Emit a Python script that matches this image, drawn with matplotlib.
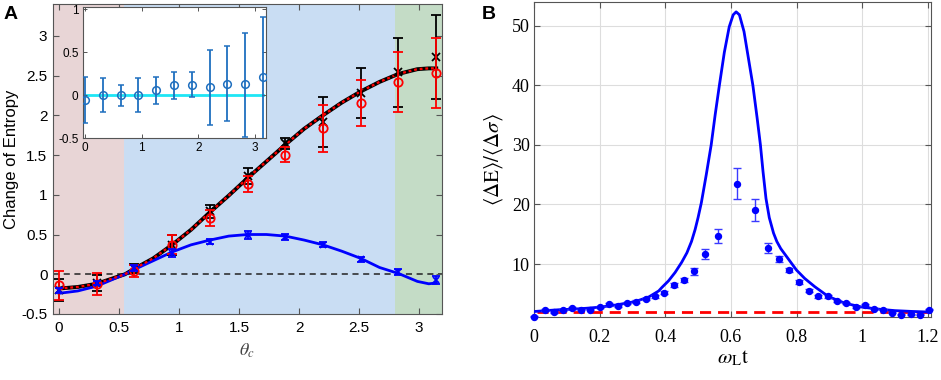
import numpy as np
import matplotlib
matplotlib.use("Agg")
import matplotlib.pyplot as plt

# ---------------- Panel A data ----------------
theta = [0, 0.314, 0.628, 0.942, 1.257, 1.571, 1.885, 2.199, 2.513, 2.827, 3.142]
black_y = [-0.20, -0.11, 0.075, 0.37, 0.79, 1.235, 1.65, 1.915, 2.28, 2.54, 2.735]
black_err = [0.14, 0.10, 0.06, 0.13, 0.08, 0.10, 0.07, 0.315, 0.31, 0.43, 0.525]
red_y = [-0.14, -0.12, 0.04, 0.37, 0.71, 1.13, 1.505, 1.835, 2.155, 2.415, 2.53]
red_err = [0.18, 0.14, 0.08, 0.12, 0.10, 0.10, 0.095, 0.295, 0.285, 0.375, 0.44]
blue_y = [-0.20, -0.11, 0.075, 0.27, 0.41, 0.49, 0.465, 0.37, 0.19, 0.025, -0.07]
blue_err = [0.03, 0.03, 0.04, 0.05, 0.03, 0.05, 0.04, 0.03, 0.03, 0.04, 0.05]

theory_x = [0, 0.157, 0.314, 0.471, 0.55, 0.628, 0.785, 0.942, 1.1, 1.257, 1.414,
            1.571, 1.728, 1.885, 2.042, 2.199, 2.356, 2.513, 2.67, 2.827, 2.985, 3.08, 3.142]
theory_total = [-0.18, -0.16, -0.12, -0.04, 0.0, 0.07, 0.2, 0.37, 0.56, 0.78, 0.99,
                1.21, 1.42, 1.63, 1.83, 2.0, 2.16, 2.3, 2.42, 2.52, 2.58, 2.59, 2.59]
theory_blue = [-0.24, -0.21, -0.15, -0.05, 0.0, 0.06, 0.17, 0.28, 0.37, 0.43, 0.48,
               0.5, 0.5, 0.48, 0.43, 0.37, 0.29, 0.2, 0.085, 0.01, -0.09, -0.12, -0.11]

inset_y = [-0.05, 0.0, 0.0, 0.0, 0.055, 0.12, 0.12, 0.09, 0.13, 0.135, 0.21]
inset_lo = [-0.32, -0.20, -0.12, -0.20, -0.10, -0.04, -0.02, -0.35, -0.30, -0.48, -0.52]
inset_hi = [0.215, 0.195, 0.12, 0.20, 0.21, 0.275, 0.265, 0.53, 0.57, 0.72, 0.91]

regions = [(-0.06, 0.54, '#e8d5d6'), (0.54, 2.80, '#c9ddf3'), (2.80, 3.25, '#c4dcc6')]

# ---------------- Panel B data ----------------
wt = [0.0, 0.033, 0.060, 0.088, 0.117, 0.143, 0.170, 0.200, 0.228, 0.256, 0.284,
      0.312, 0.340, 0.368, 0.396, 0.428, 0.457, 0.487, 0.521, 0.560, 0.619, 0.675,
      0.713, 0.748, 0.778, 0.807, 0.837, 0.866, 0.896, 0.924, 0.952, 0.981, 1.008,
      1.037, 1.064, 1.092, 1.120, 1.148, 1.175, 1.204]
ratio = [1.2, 2.3, 1.95, 2.3, 2.6, 2.33, 2.33, 2.79, 3.25, 2.95, 3.45,
         3.73, 4.15, 4.6, 5.2, 6.45, 7.37, 8.8, 11.7, 14.7, 23.5, 19.1,
         12.7, 10.8, 9.0, 6.97, 5.57, 4.57, 4.57, 3.8, 3.45, 2.76, 3.12,
         2.5, 2.33, 1.88, 1.49, 1.6, 1.49, 2.33]
ratio_err = [0.1, 0.15, 0.1, 0.1, 0.15, 0.1, 0.1, 0.15, 0.2, 0.15, 0.15,
             0.2, 0.2, 0.2, 0.25, 0.3, 0.35, 0.55, 0.8, 1.2, 2.6, 1.8,
             0.85, 0.5, 0.4, 0.3, 0.25, 0.2, 0.2, 0.2, 0.15, 0.15, 0.15,
             0.1, 0.1, 0.1, 0.1, 0.1, 0.1, 0.1]
curve_x = [0.0, 0.036, 0.076, 0.12, 0.16, 0.203, 0.25, 0.309, 0.35, 0.38, 0.39, 0.41,
           0.43, 0.45, 0.466, 0.48, 0.491, 0.50, 0.51, 0.525, 0.54, 0.552, 0.565,
           0.58, 0.595, 0.607, 0.616, 0.626, 0.64, 0.655, 0.667, 0.68, 0.69, 0.698,
           0.707, 0.717, 0.73, 0.74, 0.752, 0.776, 0.80, 0.825, 0.856, 0.897, 0.947,
           1.0, 1.05, 1.1, 1.15, 1.21]
curve_y = [2.05, 2.2, 2.35, 2.45, 2.6, 2.8, 3.15, 3.73, 4.5, 5.5, 6.1, 7.2,
           8.6, 10.3, 11.9, 13.8, 15.8, 17.8, 20.3, 25.0, 30.0, 35.0, 40.0,
           45.5, 49.8, 51.8, 52.3, 51.8, 49.0, 44.0, 40.0, 34.5, 30.0, 25.5,
           21.0, 17.8, 15.2, 13.8, 12.6, 10.8, 9.0, 7.6, 6.2, 4.57, 3.45,
           2.79, 2.45, 2.2, 2.07, 1.95]
baseline = 1.95

# ---------------- Figure ----------------
plt.rcParams['mathtext.fontset'] = 'stix'
fig = plt.figure(figsize=(9.41, 3.80), dpi=100)

sans = 'Liberation Sans'
serif = 'Liberation Serif'
frame_col = '#555555'

# Panel A
ax = fig.add_axes([0.0563, 0.1737, 0.4134, 0.8158])
for x0, x1, c in regions:
    ax.axvspan(x0, x1, color=c, lw=0, zorder=0)
ax.axhline(0, color='#222222', ls=(0, (4, 3)), lw=1.1, zorder=1)
ax.plot(theory_x, theory_total, color='black', lw=2.8, zorder=2)
ax.plot(theory_x, theory_total, color='red', lw=1.7, ls=(0, (1.2, 1.2)), zorder=3)
ax.plot(theory_x, theory_blue, color='#0000ff', lw=2.0, zorder=2)
ax.errorbar(theta, black_y, yerr=black_err, fmt='x', color='black', ms=6, mew=1.3,
            elinewidth=1.3, capsize=3.5, capthick=1.3, zorder=4)
ax.errorbar(theta, red_y, yerr=red_err, fmt='o', color='red', mfc='none', ms=6, mew=1.3,
            elinewidth=1.3, capsize=3.5, capthick=1.3, zorder=5)
ax.errorbar(theta, blue_y, yerr=blue_err, fmt='x', color='#0000ff', ms=5, mew=1.3,
            elinewidth=1.3, capsize=3, capthick=1.3, zorder=6)
ax.set_xlim(-0.05, 3.19)
ax.set_ylim(-0.5, 3.4)
ax.set_xticks([0, 0.5, 1, 1.5, 2, 2.5, 3])
ax.set_xticklabels(['0', '0.5', '1', '1.5', '2', '2.5', '3'])
ax.set_yticks([-0.5, 0, 0.5, 1, 1.5, 2, 2.5, 3])
ax.set_yticklabels(['-0.5', '0', '0.5', '1', '1.5', '2', '2.5', '3'])
ax.tick_params(direction='in', top=True, right=True, length=4, width=0.8,
               color=frame_col, labelsize=11, pad=5)
ax.tick_params(axis='y', pad=4)
for lab in ax.get_xticklabels() + ax.get_yticklabels():
    lab.set_fontfamily(sans)
for s in ax.spines.values():
    s.set_color(frame_col)
    s.set_linewidth(0.8)
ax.set_xlabel(r'$\theta_c$', fontsize=13, color='#444444', labelpad=5)
ax.set_ylabel('Change of Entropy', fontsize=12, fontfamily=sans, labelpad=2)

# Inset
axi = fig.add_axes([0.0879, 0.636, 0.1945, 0.3447])
axi.set_facecolor('white')
axi.plot([theta[0], theta[-1]], [0, 0], color='#1ee6f5', lw=2.0, zorder=1)
inset_yerr = [[y - lo for y, lo in zip(inset_y, inset_lo)],
              [hi - y for y, hi in zip(inset_y, inset_hi)]]
axi.errorbar(theta, inset_y, yerr=inset_yerr, fmt='o', color='#1f6fbf', mfc='none',
             ms=5.5, mew=1.1, elinewidth=1.3, capsize=2, capthick=1.1, zorder=3)
axi.set_xlim(-0.04, 3.19)
axi.set_ylim(-0.5, 1.02)
axi.set_xticks([0, 1, 2, 3])
axi.set_yticks([-0.5, 0, 0.5, 1])
axi.set_yticklabels(['-0.5', '0', '0.5', '1'])
axi.tick_params(direction='in', top=True, right=True, length=3, width=0.7,
                color=frame_col, labelsize=8.5, pad=3)
for lab in axi.get_xticklabels() + axi.get_yticklabels():
    lab.set_fontfamily(sans)
for s in axi.spines.values():
    s.set_color(frame_col)
    s.set_linewidth(0.8)

# Panel B
bx = fig.add_axes([0.5675, 0.1645, 0.4219, 0.831])
bx.grid(True, color='#dddddd', lw=0.8, zorder=0)
bx.plot(curve_x, curve_y, color='#0000ff', lw=2.0, zorder=3)
bx.plot([0.01, 1.21], [baseline, baseline], color='red', lw=2.0, ls=(0, (4, 2.5)), zorder=2)
bx.errorbar(wt, ratio, yerr=ratio_err, fmt='o', color='#0000ff', ecolor='#3a3aff',
            ms=4.3, elinewidth=1.0, capsize=3, capthick=1.0, zorder=4, clip_on=False)
bx.set_xlim(0, 1.21)
bx.set_ylim(1.05, 54)
bx.set_xticks([0, 0.2, 0.4, 0.6, 0.8, 1.0, 1.2])
bx.set_xticklabels(['0', '0.2', '0.4', '0.6', '0.8', '1', '1.2'])
bx.set_yticks([10, 20, 30, 40, 50])
bx.tick_params(direction='in', top=True, right=True, length=4, width=0.8,
               color=frame_col, labelsize=13, pad=8)
bx.tick_params(axis='y', pad=3)
for lab in bx.get_xticklabels() + bx.get_yticklabels():
    lab.set_fontfamily(serif)
for s in bx.spines.values():
    s.set_color(frame_col)
    s.set_linewidth(0.8)
bx.set_xlabel(r'$\omega_{\mathrm{L}}\mathrm{t}$', fontsize=15, labelpad=2)
bx.set_ylabel(r'$\langle\Delta\mathrm{E}\rangle/\langle\Delta\sigma\rangle$', fontsize=15, labelpad=5)

fig.text(0.004, 0.985, 'A', fontsize=14, fontweight='bold', fontfamily=sans, va='top', ha='left')
fig.text(0.512, 0.985, 'B', fontsize=14, fontweight='bold', fontfamily=sans, va='top', ha='left')

fig.savefig('out.png', dpi=100)
